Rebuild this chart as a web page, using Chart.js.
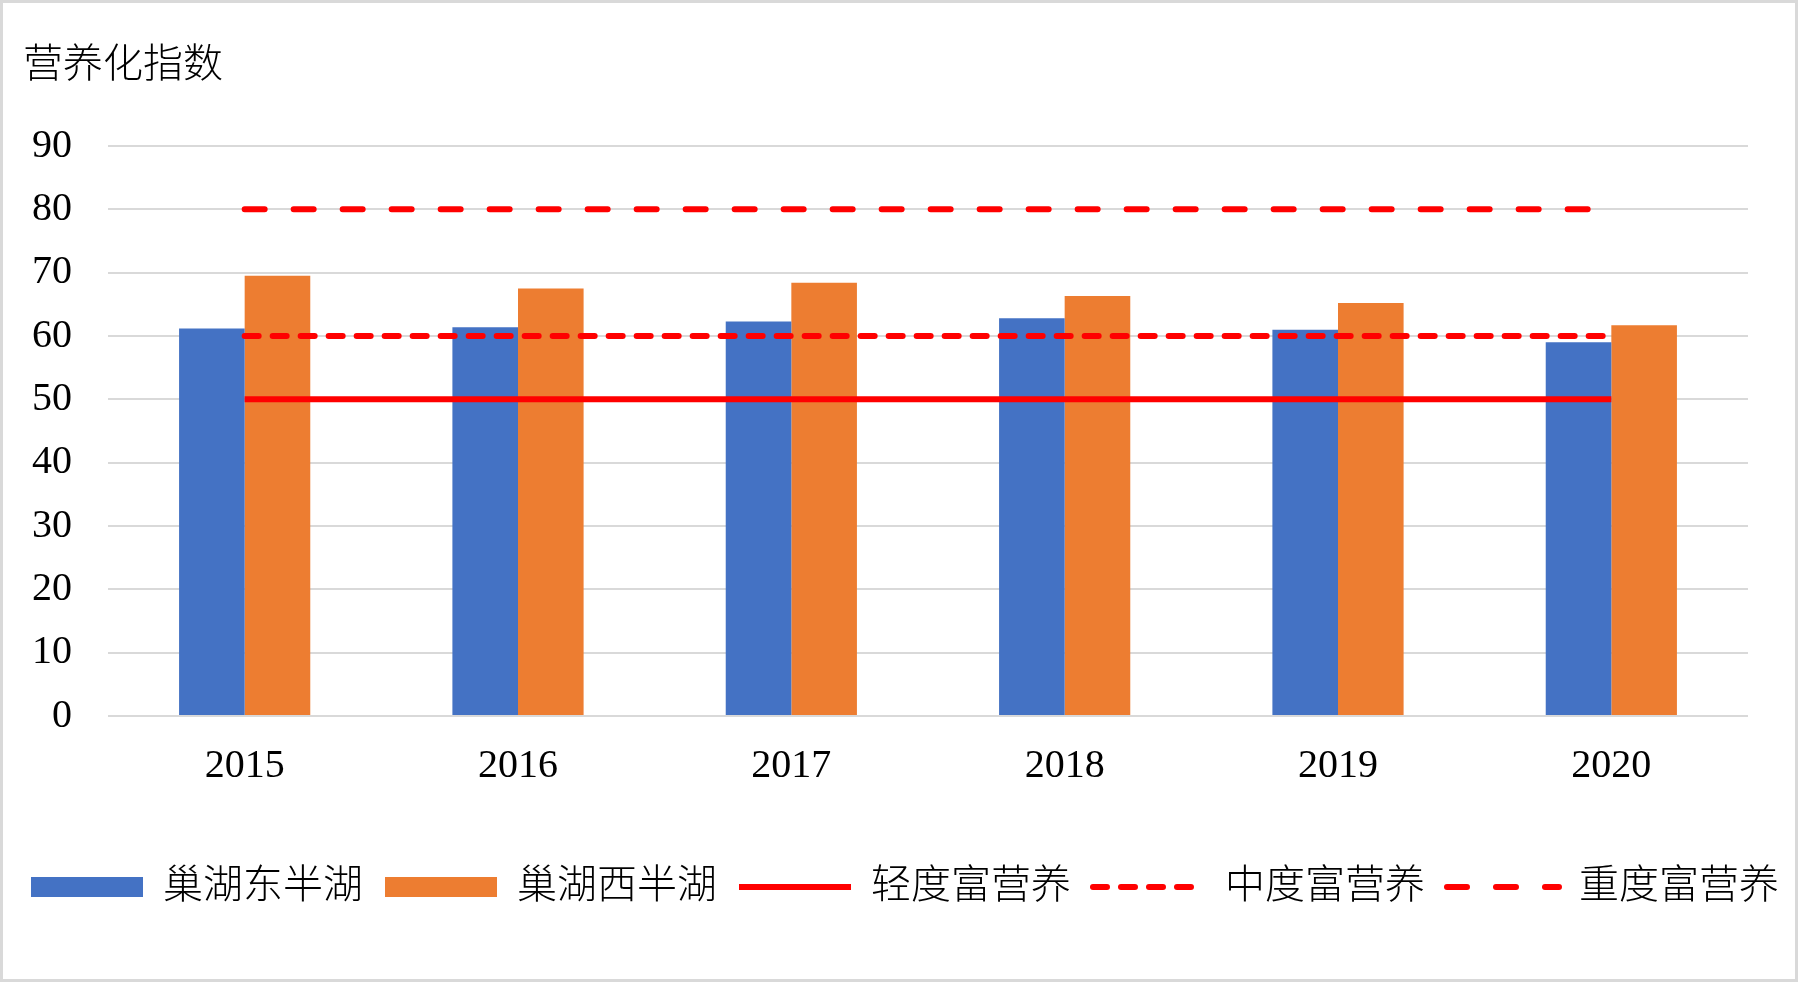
<!DOCTYPE html>
<html lang="zh">
<head>
<meta charset="utf-8">
<title>营养化指数</title>
<script src="https://cdn.jsdelivr.net/npm/chart.js@4.4.1/dist/chart.umd.min.js"></script>
<style>
  html, body { margin: 0; padding: 0; background: #fff; }
  #wrap { width: 1801px; height: 984px; position: relative; }
</style>
</head>
<body>
<div id="wrap"><canvas id="trophicChart"></canvas></div>
<script>
/* ── data ───────────────────────────── */
const years       = ['2015', '2016', '2017', '2018', '2019', '2020'];
const eastLake    = [61.2, 61.4, 62.3, 62.8, 61.0, 59.0];   // 巢湖东半湖
const westLake    = [69.5, 67.5, 68.4, 66.3, 65.2, 61.7];   // 巢湖西半湖
const lightLevel  = [50, 50, 50, 50, 50, 50];               // 轻度富营养
const middleLevel = [60, 60, 60, 60, 60, 60];               // 中度富营养
const heavyLevel  = [80, 80, 80, 80, 80, 80];               // 重度富营养
const yTickMin = 0, yTickMax = 90, yTickStep = 10;

const serif = "'Liberation Serif', 'Noto Sans CJK SC', serif";
const RED = '#ff0000';

/* ── frame + title drawn on the canvas ── */
const framePlugin = {
  id: 'frame',
  beforeDraw(chart) {
    const { ctx, width, height } = chart;
    ctx.save();
    ctx.fillStyle = '#ffffff';
    ctx.fillRect(0, 0, width, height);
    ctx.strokeStyle = '#d9d9d9';
    ctx.lineWidth = 3;
    ctx.strokeRect(1.5, 1.5, width - 6, height - 5);
    ctx.restore();
  },
  afterDraw(chart) {
    const { ctx } = chart;
    ctx.save();
    ctx.font = '300 40px ' + serif;
    ctx.fillStyle = '#000';
    ctx.textBaseline = 'middle';
    ctx.fillText('营养化指数', 23, 66);
    ctx.restore();
  }
};

// legend: keep dash pattern / caps of the line datasets
function legendLabels(chart) {
  const items = Chart.defaults.plugins.legend.labels.generateLabels(chart);
  return items.map((item) => {
    const ds = chart.data.datasets[item.datasetIndex];
    if (ds.type === 'line') {
      item.lineDash = ds.borderDash || [];
      item.lineCap = ds.borderCapStyle || 'butt';
      item.lineWidth = ds.borderWidth;
      item.strokeStyle = ds.borderColor;
    } else {
      item.lineWidth = 0;
    }
    return item;
  });
}

new Chart(document.getElementById('trophicChart'), {
  type: 'bar',
  data: {
    labels: years,
    datasets: [
      { label: '巢湖东半湖', data: eastLake, backgroundColor: '#4472c4', order: 1, pointStyle: 'rect' },
      { label: '巢湖西半湖', data: westLake, backgroundColor: '#ed7d31', order: 1, pointStyle: 'rect' },
      { type: 'line', label: '轻度富营养', data: lightLevel, borderColor: RED, backgroundColor: RED,
        borderWidth: 6, pointRadius: 0, pointStyle: 'line', borderCapStyle: 'butt', order: 0 },
      { type: 'line', label: '中度富营养', data: middleLevel, borderColor: RED, backgroundColor: RED,
        borderWidth: 6, borderDash: [14, 14], pointRadius: 0, pointStyle: 'line', borderCapStyle: 'round', order: 0 },
      { type: 'line', label: '重度富营养', data: heavyLevel, borderColor: RED, backgroundColor: RED,
        borderWidth: 6, borderDash: [20, 29], pointRadius: 0, pointStyle: 'line', borderCapStyle: 'round', order: 0 }
    ]
  },
  options: {
    responsive: true,
    maintainAspectRatio: false,
    animation: false,
    devicePixelRatio: 1,
    layout: { padding: { top: 146, left: 9, right: 0, bottom: 67 } },
    datasets: {
      bar: { categoryPercentage: 0.48, barPercentage: 1.0 }
    },
    scales: {
      x: {
        grid: { display: false },
        border: { display: false },
        ticks: { color: '#000', padding: 18, font: { family: serif, size: 40 } },
        afterFit: (s) => { s.height = 129; }
      },
      y: {
        min: yTickMin,
        max: yTickMax,
        grid: { color: '#d9d9d9', lineWidth: 2, drawTicks: false },
        border: { display: false },
        ticks: { stepSize: yTickStep, color: '#000', padding: 36, font: { family: serif, size: 40 } },
        afterFit: (s) => { s.width = 99; }
      },
      y2: {
        position: 'right',
        grid: { display: false },
        border: { display: false },
        ticks: { display: false },
        afterFit: (s) => { s.width = 53; }
      }
    },
    plugins: {
      legend: {
        position: 'bottom',
        labels: {
          usePointStyle: true,
          pointStyleWidth: 112,
          boxWidth: 112,
          boxHeight: 20,
          padding: 22,
          color: '#000',
          font: { family: serif, size: 40, weight: 300 },
          generateLabels: legendLabels,
          sort: (a, b) => a.datasetIndex - b.datasetIndex
        }
      },
      tooltip: { enabled: false }
    }
  },
  plugins: [framePlugin]
});
</script>
</body>
</html>
